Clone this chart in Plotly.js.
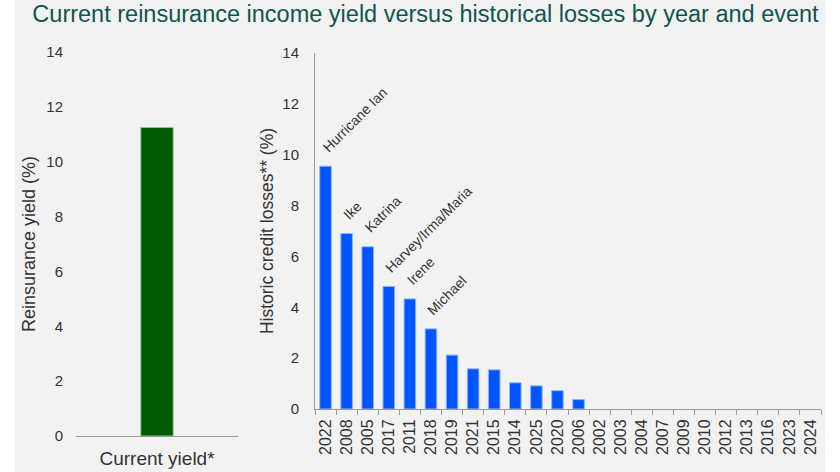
<!DOCTYPE html>
<html>
<head>
<meta charset="utf-8">
<script src="https://cdn.plot.ly/plotly-3.0.1.min.js"></script>
<style>html,body{margin:0;padding:0;background:#fff;}#chart{width:840px;height:472px;}</style>
</head>
<body>
<div id="chart"></div>
<script>
// ---- data ----
const yieldCategories = ["Current yield*"];
const yieldValues = [11.25];

const lossYears = ["2022","2008","2005","2017","2011","2018","2019","2021","2015","2014","2025","2020","2006","2002","2003","2004","2007","2009","2010","2012","2013","2016","2023","2024"];
const lossValues = [9.55, 6.9, 6.38, 4.82, 4.33, 3.15, 2.12, 1.58, 1.54, 1.03, 0.91, 0.72, 0.37, 0, 0, 0, 0, 0, 0, 0, 0, 0, 0, 0];
const eventNames = ["Hurricane Ian","Ike","Katrina","Harvey/Irma/Maria","Irene","Michael","","","","","","","","","","","","","","","","","",""];

const yTicks = [0, 2, 4, 6, 8, 10, 12, 14];

const titleText = "Current reinsurance income yield versus historical losses by year and event";

// ---- styles ----
const FONT = "Liberation Sans, Arial, sans-serif";
const TXT = "#333333";
const AXIS = "#9a9a9a";

const traces = [
  {
    type: "bar", x: yieldCategories, y: yieldValues, xaxis: "x", yaxis: "y",
    width: 0.2,
    marker: {color: "#005a00", line: {color: "#8fcf8f", width: 1}},
    hoverinfo: "skip"
  },
  {
    type: "bar", x: lossYears, y: lossValues, xaxis: "x2", yaxis: "y2",
    width: 0.55,
    marker: {color: "#0055ff", line: {color: "#8fb4ff", width: lossValues.map(v => v > 0 ? 1 : 0)}},
    hoverinfo: "skip"
  }
];

const annotations = [];
lossYears.forEach((yr, i) => {
  if (eventNames[i]) {
    annotations.push({
      x: i, y: lossValues[i], xref: "x2", yref: "y2",
      text: eventNames[i], showarrow: false, textangle: -45,
      xanchor: "left", yanchor: "bottom", xshift: -9, yshift: 8,
      font: {family: FONT, size: 14, color: TXT}
    });
  }
});

const layout = {
  width: 840, height: 472,
  margin: {l: 0, r: 0, t: 0, b: 0},
  paper_bgcolor: "#ffffff",
  plot_bgcolor: "rgba(0,0,0,0)",
  showlegend: false,
  bargap: 0,
  title: {
    text: titleText,
    x: 425.5/840, xanchor: "center", xref: "paper",
    y: 1 - 14/472, yanchor: "middle", yref: "container",
    font: {family: FONT, size: 23.5, color: "#0f5550"}
  },
  shapes: [{
    type: "rect", xref: "paper", yref: "paper", layer: "below",
    x0: 15/840, x1: 825/840, y0: 0, y1: 1,
    fillcolor: "#f2f2f2", line: {width: 0}
  }],
  xaxis: {
    type: "category",
    domain: [76/840, 238/840],
    range: [-0.5, yieldCategories.length - 0.5],
    showline: true, linecolor: AXIS, linewidth: 1,
    ticks: "", showgrid: false, zeroline: false,
    ticklabelstandoff: 5,
    tickfont: {family: FONT, size: 19, color: TXT},
    fixedrange: true
  },
  yaxis: {
    domain: [36/472, 420/472], range: [0, 14],
    tickvals: yTicks, ticks: "", showline: false, showgrid: false, zeroline: false,
    ticklabelstandoff: 12,
    tickfont: {family: FONT, size: 15, color: TXT},
    title: {text: "Reinsurance yield (%)", standoff: 6, font: {family: FONT, size: 18, color: TXT}},
    fixedrange: true
  },
  xaxis2: {
    type: "category",
    domain: [315/840, 821/840], anchor: "y2",
    range: [-0.5, lossYears.length - 0.5],
    showline: true, linecolor: AXIS, linewidth: 1,
    ticks: "outside", ticklen: 5, tickcolor: AXIS, tickwidth: 1, tickson: "boundaries",
    tickangle: -90, showgrid: false, zeroline: false,
    ticklabelstandoff: 3,
    tickfont: {family: FONT, size: 16, color: TXT},
    fixedrange: true
  },
  yaxis2: {
    domain: [63/472, 419/472], anchor: "x2", range: [0, 14],
    tickvals: yTicks, ticks: "", showline: true, linecolor: AXIS, linewidth: 1,
    showgrid: false, zeroline: false,
    ticklabelstandoff: 12,
    tickfont: {family: FONT, size: 15, color: TXT},
    title: {text: "Historic credit losses** (%)", standoff: 4, font: {family: FONT, size: 17.5, color: TXT}},
    fixedrange: true
  },
  annotations: annotations
};

Plotly.newPlot("chart", traces, layout, {displayModeBar: false, staticPlot: true});
</script>
</body>
</html>
